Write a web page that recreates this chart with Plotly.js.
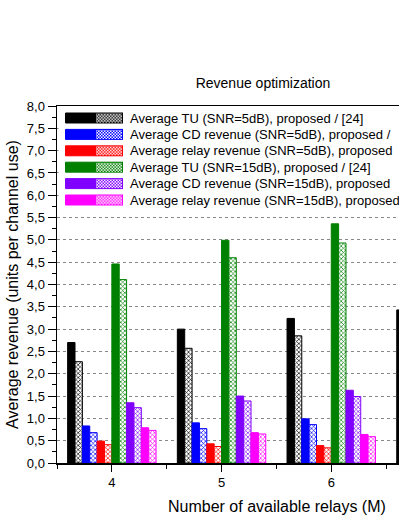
<!DOCTYPE html>
<html>
<head>
<meta charset="utf-8">
<script src="https://cdn.plot.ly/plotly-3.0.1.min.js"></script>
<style>
html,body{margin:0;padding:0;background:#fff;overflow:hidden;}
#chart{width:399px;height:516px;}
</style>
</head>
<body>
<div id="chart"></div>
<script>
// ---- data ----
const categories = [4, 5, 6, 7];
const tuProposed5   = [2.70, 3.00, 3.24, 3.43];
const tuRef5        = [2.27, 2.57, 2.85, null];
const cdProposed5   = [0.83, 0.90, 0.99, null];
const cdRef5        = [0.68, 0.77, 0.86, null];
const relayProposed5= [0.49, 0.43, 0.39, null];
const relayRef5     = [0.41, 0.37, 0.34, null];
const tuProposed15  = [4.46, 4.99, 5.36, null];
const tuRef15       = [4.11, 4.60, 4.93, null];
const cdProposed15  = [1.35, 1.50, 1.63, null];
const cdRef15       = [1.24, 1.39, 1.49, null];
const relayProposed15=[0.79, 0.68, 0.64, null];
const relayRef15    = [0.73, 0.65, 0.59, null];
// legend texts as far as they are visible in the (cropped) reference
const legendLabels = [
  "Average TU (SNR=5dB), proposed / [24]",
  "Average CD revenue (SNR=5dB), proposed /",
  "Average relay revenue (SNR=5dB), proposed",
  "Average TU (SNR=15dB), proposed / [24]",
  "Average CD revenue (SNR=15dB), proposed",
  "Average relay revenue (SNR=15dB), proposed"
];
const colors = ["#000000", "#0000ff", "#ff0000", "#008000", "#8000ff", "#ff00ff"];
const pairs = [
  [tuProposed5, tuRef5], [cdProposed5, cdRef5], [relayProposed5, relayRef5],
  [tuProposed15, tuRef15], [cdProposed15, cdRef15], [relayProposed15, relayRef15]
];

const FONT = "Liberation Sans, Arial, sans-serif";
const traces = [];
pairs.forEach((p, i) => {
  const c = colors[i];
  traces.push({
    type: "bar", x: categories, y: p[0], name: legendLabels[i] + " (proposed)",
    marker: {color: c, line: {color: c, width: 1}},
    showlegend: false, hoverinfo: "x+y"
  });
  traces.push({
    type: "bar", x: categories, y: p[1], name: legendLabels[i] + " ([24])",
    marker: {color: c, line: {color: c, width: 1},
      pattern: {shape: "x", size: 3, solidity: 0.4, fgcolor: c, bgcolor: "#ffffff", fillmode: "replace"}},
    showlegend: false, hoverinfo: "x+y"
  });
});

// ---- manual legend (pixel geometry of plot area) ----
const L = 57, R = 399, T = 106, B = 463;
const px = x => (x - L) / (R - L);
const py = y => (B - y) / (B - T);
const shapes = [];
const images = [];
const annotations = [];

function whiteURI() {
  const cv = document.createElement("canvas");
  cv.width = 8; cv.height = 8;
  const g = cv.getContext("2d");
  g.fillStyle = "#ffffff"; g.fillRect(0, 0, 8, 8);
  return cv.toDataURL("image/png");
}
// white legend background (covers the grid lines behind the legend)
images.push({
  source: whiteURI(), xref: "paper", yref: "paper",
  x: px(58.5), y: py(107), sizex: 1.05 - px(58.5), sizey: py(107) - py(208),
  xanchor: "left", yanchor: "top", sizing: "stretch", layer: "above"
});

function hatchURI(c) {
  const cv = document.createElement("canvas");
  cv.width = 56; cv.height = 22;
  const g = cv.getContext("2d");
  g.fillStyle = "#ffffff"; g.fillRect(0, 0, 56, 22);
  g.fillStyle = c;
  for (let yy = 0; yy < 22; yy += 3) {
    for (let xx = 0; xx < 56; xx += 3) {
      if (((xx / 3) + (yy / 3)) % 2 === 0) g.fillRect(xx, yy, 3, 3);
    }
  }
  g.strokeStyle = c; g.lineWidth = 2;
  g.strokeRect(1, 1, 54, 20);
  return cv.toDataURL("image/png");
}
legendLabels.forEach((lab, i) => {
  const cy = 118 + i * 16.4;
  const c = colors[i];
  shapes.push({
    type: "rect", xref: "paper", yref: "paper", layer: "above",
    x0: px(65.5), x1: px(95), y0: py(cy + 5), y1: py(cy - 5),
    fillcolor: c, line: {color: c, width: 1}
  });
  images.push({
    source: hatchURI(c), xref: "paper", yref: "paper",
    x: px(95), y: py(cy - 5.5), sizex: px(123) - px(95), sizey: py(cy - 5.5) - py(cy + 5.5),
    xanchor: "left", yanchor: "top", sizing: "stretch", layer: "above"
  });
  annotations.push({
    xref: "paper", yref: "paper", x: px(127.5), y: py(cy), xanchor: "left", yanchor: "middle",
    text: lab, showarrow: false, font: {family: FONT, size: 13, color: "#000"}
  });
});
// x-axis title: centred on the full (cropped) plot width as in the reference
annotations.push({
  xref: "paper", yref: "paper", x: px(277), y: py(506), xanchor: "center", yanchor: "middle",
  text: "Number of available relays (M)", showarrow: false, font: {family: FONT, size: 16, color: "#000"}
});

const layout = {
  width: 399, height: 516,
  margin: {l: L, r: 0, t: T, b: 516 - B, pad: 0},
  paper_bgcolor: "#ffffff", plot_bgcolor: "#ffffff",
  separators: ",.",
  font: {family: FONT, size: 13, color: "#000"},
  barmode: "group", bargap: 0.194, bargroupgap: 0,
  showlegend: false,
  title: {text: "Revenue optimization", font: {family: FONT, size: 14, color: "#000"},
    x: 263 / 399, xref: "container", xanchor: "center", y: 1 - 83 / 516, yref: "container", yanchor: "middle"},
  xaxis: {
    range: [3.5, 3.5 + (R - L) / 109.7], tickvals: categories, ticktext: categories.map(String),
    ticks: "outside", ticklen: 7, tickwidth: 1, tickcolor: "#000",
    minor: {tickvals: [3.5, 4.5, 5.5, 6.5, 7.5], ticks: "outside", ticklen: 4, tickwidth: 1, tickcolor: "#000", showgrid: false},
    showline: true, linecolor: "#000", linewidth: 1.5, mirror: true,
    showgrid: false, zeroline: false, fixedrange: true,
    tickfont: {family: FONT, size: 13, color: "#000"}
  },
  yaxis: {
    range: [0, 8], dtick: 0.5, tick0: 0, tickformat: ".1f",
    ticks: "outside", ticklen: 8, tickwidth: 1, tickcolor: "#000",
    minor: {dtick: 0.25, ticks: "outside", ticklen: 4, tickwidth: 1, tickcolor: "#000", showgrid: false},
    showline: true, linecolor: "#000", linewidth: 1.5, mirror: false,
    showgrid: true, gridcolor: "#888888", gridwidth: 1, griddash: "dot",
    zeroline: false, fixedrange: true,
    tickfont: {family: FONT, size: 13, color: "#000"},
    title: {text: "Average revenue (units per channel use)", font: {family: FONT, size: 16, color: "#000"}, standoff: 4}
  },
  shapes: shapes, images: images, annotations: annotations
};

Plotly.newPlot("chart", traces, layout, {staticPlot: true, displayModeBar: false});
</script>
</body>
</html>
